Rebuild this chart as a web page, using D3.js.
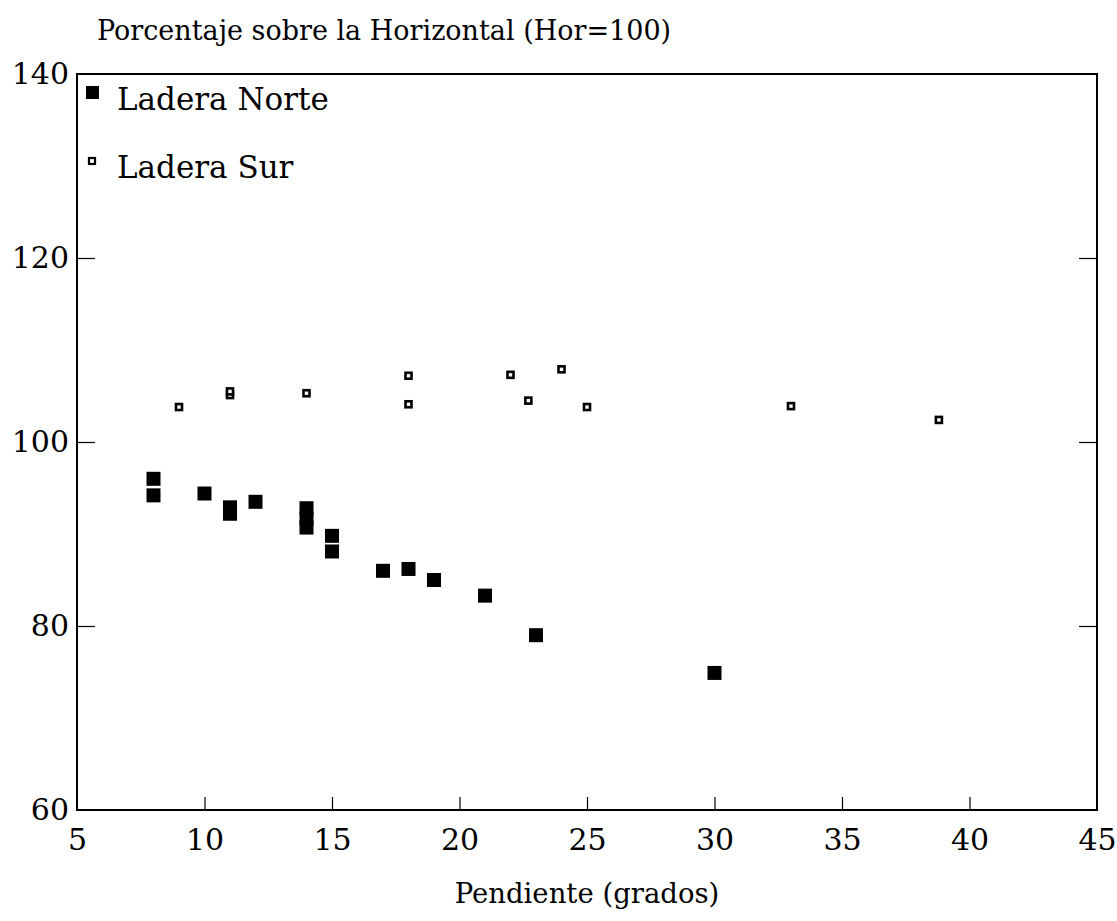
<!DOCTYPE html>
<html>
<head>
<meta charset="utf-8">
<script src="https://cdn.jsdelivr.net/npm/d3@7"></script>
<style>
  body { margin: 0; background: #fff; }
  svg { display: block; }
</style>
</head>
<body>
<div id="chart"></div>
<script>
// values
var norteX = [8, 8, 10, 11, 11, 12, 14, 14, 14, 15, 15, 17, 18, 19, 21, 23, 30]
var norteY = [96.0, 94.2, 94.4, 92.9, 92.2, 93.5, 92.8, 91.7, 90.7, 89.8, 88.1, 86.0, 86.2, 85.0, 83.3, 79.0, 74.9]

var surX = [9, 11, 11, 14, 18, 18, 22, 22.7, 24, 25, 33, 38.8]
var surY = [103.8, 105.1, 105.5, 105.3, 107.2, 104.1, 107.3, 104.5, 107.9, 103.8, 103.9, 102.4]

var xTicks = [5, 10, 15, 20, 25, 30, 35, 40, 45]
var yTicks = [60, 80, 100, 120, 140]

var seriesNames = ['Ladera Norte', 'Ladera Sur']
var titleText = 'Porcentaje sobre la Horizontal (Hor=100)'
var xTitle = 'Pendiente (grados)'

var svgWidth = 1117
var svgHeight = 921
var font = 'DejaVu Serif, serif'

var plot = { left: 77, right: 1097, top: 74, bottom: 810 }

var svg = d3.select('#chart')
  .append('svg')
  .attr('width', svgWidth)
  .attr('height', svgHeight)

var x = d3.scaleLinear().domain([5, 45]).range([plot.left, plot.right])
var y = d3.scaleLinear().domain([60, 140]).range([plot.bottom, plot.top])

// frame
svg.append('rect')
  .attr('x', plot.left)
  .attr('y', plot.top)
  .attr('width', plot.right - plot.left)
  .attr('height', plot.bottom - plot.top)
  .attr('fill', 'none')
  .attr('stroke', '#000')
  .attr('stroke-width', 2)

// x axis, ticks pointing in
var xAxis = svg.append('g')
  .attr('transform', `translate(0, ${plot.bottom})`)
  .call(d3.axisBottom(x).tickValues(xTicks).tickSizeInner(-13).tickSizeOuter(0).tickPadding(19))
xAxis.select('.domain').remove()
xAxis.selectAll('.tick line')
  .attr('stroke-width', 1.2)
  .filter(d => d === 5 || d === 45).remove()
xAxis.selectAll('text')
  .attr('font-family', font)
  .attr('font-size', 30)
  .attr('fill', '#000')

// y axis on the left
var yAxis = svg.append('g')
  .attr('transform', `translate(${plot.left}, 0)`)
  .call(d3.axisLeft(y).tickValues(yTicks).tickSizeInner(-18).tickSizeOuter(0).tickPadding(8))
yAxis.select('.domain').remove()
yAxis.selectAll('.tick line')
  .attr('stroke-width', 1.2)
  .filter(d => d === 60 || d === 140).remove()
yAxis.selectAll('text')
  .attr('font-family', font)
  .attr('font-size', 30)
  .attr('fill', '#000')

// matching ticks on the right side, no labels
var yRight = svg.append('g')
  .attr('transform', `translate(${plot.right}, 0)`)
  .call(d3.axisRight(y).tickValues([80, 100, 120]).tickSizeInner(-18).tickSizeOuter(0).tickFormat(''))
yRight.select('.domain').remove()
yRight.selectAll('.tick line').attr('stroke-width', 1.2)

// Ladera Norte: filled squares
var norteData = norteX.map((d, i) => ({ x: d, y: norteY[i] }))
var sq = 14
svg.append('g')
  .selectAll('rect')
  .data(norteData)
  .enter()
  .append('rect')
  .attr('x', d => x(d.x) - sq / 2)
  .attr('y', d => y(d.y) - sq / 2)
  .attr('width', sq)
  .attr('height', sq)
  .attr('fill', '#000')

// Ladera Sur: small open squares
var surData = surX.map((d, i) => ({ x: d, y: surY[i] }))
var so = 6
svg.append('g')
  .selectAll('rect')
  .data(surData)
  .enter()
  .append('rect')
  .attr('x', d => x(d.x) - so / 2)
  .attr('y', d => y(d.y) - so / 2)
  .attr('width', so)
  .attr('height', so)
  .attr('fill', '#fff')
  .attr('stroke', '#000')
  .attr('stroke-width', 2.6)

// legend
var legend = svg.append('g')
legend.append('rect')
  .attr('x', 86).attr('y', 86)
  .attr('width', 13).attr('height', 13)
  .attr('fill', '#000')
legend.append('rect')
  .attr('x', 89).attr('y', 158)
  .attr('width', 6).attr('height', 6)
  .attr('fill', '#fff')
  .attr('stroke', '#000')
  .attr('stroke-width', 2.2)
legend.selectAll('text')
  .data(seriesNames)
  .enter()
  .append('text')
  .attr('x', 117)
  .attr('y', (d, i) => 110 + i * 68)
  .attr('font-family', font)
  .attr('font-size', 31)
  .text(d => d)

// titles
svg.append('text')
  .attr('x', 97)
  .attr('y', 40)
  .attr('font-family', font)
  .attr('font-size', 27)
  .text(titleText)

svg.append('text')
  .attr('x', (plot.left + plot.right) / 2)
  .attr('y', 903)
  .attr('text-anchor', 'middle')
  .attr('font-family', font)
  .attr('font-size', 27.5)
  .text(xTitle)
</script>
</body>
</html>
